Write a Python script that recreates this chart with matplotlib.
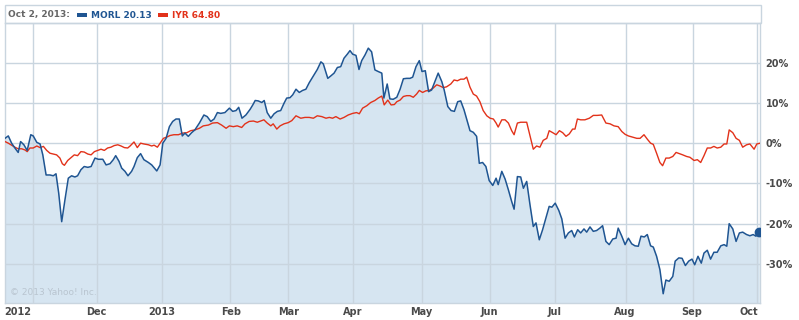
import matplotlib
matplotlib.use("Agg")
import matplotlib.pyplot as plt
from matplotlib.patches import Rectangle

# ── data (x = trading-session index from chart start, y = % change) ─────────

morl_day = [
    0, 1.1, 2.2, 3.3, 4.4, 5.2, 6.3, 7.4, 8.6, 9.4, 10.6, 11.7, 12.6, 13.7, 15,
    16.1, 17, 17.9, 18.9, 20, 21.1, 22.2, 23.3, 24.2, 25.3, 26.4, 27.6, 28.7, 30,
    31.1, 32.6, 33.7, 35, 36.1, 36.9, 38, 38.9, 40, 41, 42.2, 43, 44.1, 45.2,
    46.3, 47.8, 48.9, 50.6, 51.7, 52.6, 53.7, 54.8, 55.9, 57, 58.1, 59.1, 60,
    61.1, 62.2, 63.3, 64.8, 66.3, 67.4, 68.6, 69.7, 70.8, 71.9, 73.3, 74.8, 75.9,
    77, 77.9, 79, 80.3, 81.7, 82.6, 83.4, 84.4, 85.6, 86.4, 87.4, 88.6, 89.7,
    90.8, 91.9, 93, 93.9, 95, 95.9, 97, 98.1, 99.2, 100.3, 101.4, 102.8, 104.1,
    105.3, 106.1, 107.6, 108.6, 109.7, 110.8, 111.9, 113, 114.1, 115, 115.9, 117,
    118, 118.9, 120, 121.1, 122.2, 123.3, 124.4, 125.6, 126.3, 127.4, 128.3,
    129.4, 130.6, 131.7, 132.8, 133.9, 135, 135.9, 137, 138.1, 139, 140.1, 141.2,
    142.2, 143.3, 144.4, 145.6, 146.4, 147.6, 148.7, 149.8, 150.9, 151.9, 153,
    153.9, 155, 156.1, 157.2, 158.1, 159.2, 160.3, 161.4, 162.6, 163.7, 164.4,
    165.6, 166.7, 167.8, 168.9, 169.7, 170.8, 171.9, 172.8, 173.9, 175, 176.1,
    177, 178.1, 179.2, 180.3, 181.4, 182.3, 183.4, 184.6, 185.6, 186.7, 187.8,
    188.9, 189.8, 190.9, 191.9, 193, 193.9, 195, 196.1, 197.2, 198.3, 199.2,
    200.3, 201.4, 202.6, 203.7, 204.4, 205.6, 206.7, 207.8, 208.9, 210, 211.1,
    212, 213.1, 214.1, 215.2, 216.1, 217.2, 218.3, 219.4, 220.3, 221.4, 222.6,
    223.4, 224.6, 225.7, 226.8, 227.9, 229, 229.9, 231, 232.1, 233, 234.1, 235.2,
    236.3, 237.4, 238.6, 239.7, 240.6, 241.4, 242.6, 243.7, 244.8, 245.9, 247.2,
    248.3, 249.4, 250.3, 251.4,
]
morl_pct = [
    1.2, 1.8, 0.0, -1.2, -2.3, 0.4, -0.4, -1.8, 2.1, 1.8, 0.2, -0.2, -2.9, -7.9,
    -7.9, -8.1, -7.6, -12.4, -19.5, -14.0, -8.7, -8.1, -8.4, -8.1, -6.6, -5.8,
    -6.0, -5.8, -3.7, -4.0, -4.0, -5.4, -5.1, -4.1, -3.1, -4.5, -6.2, -7.0, -8.1,
    -7.0, -5.8, -3.6, -2.6, -4.1, -4.8, -5.4, -6.9, -5.4, 0.0, 1.2, 4.1, 5.4,
    6.0, 6.0, 1.8, 2.5, 1.7, 2.6, 3.3, 5.0, 7.0, 6.6, 5.4, 6.0, 7.6, 7.4, 7.6,
    8.7, 7.9, 8.1, 8.9, 6.2, 7.0, 8.4, 9.5, 10.6, 10.5, 10.1, 10.6, 7.6, 6.2,
    7.3, 7.9, 8.1, 9.9, 11.2, 11.3, 12.0, 13.4, 12.6, 13.1, 13.4, 15.0, 16.7,
    18.3, 20.2, 19.7, 16.1, 16.7, 17.4, 18.8, 19.0, 21.1, 22.1, 23.0, 22.1, 21.8,
    18.3, 20.5, 21.9, 23.6, 22.7, 18.2, 17.8, 17.4, 11.2, 14.7, 11.0, 10.9, 11.4,
    13.4, 16.0, 16.1, 16.1, 16.4, 19.0, 20.5, 17.8, 18.0, 12.8, 13.2, 15.3, 17.4,
    15.3, 13.2, 9.1, 8.1, 7.9, 10.3, 10.5, 8.3, 6.0, 3.1, 2.7, 1.7, -5.0, -4.8,
    -5.8, -9.3, -10.5, -8.7, -10.3, -7.0, -8.9, -11.6, -14.5, -16.4, -8.3, -8.4,
    -11.2, -9.5, -15.3, -20.7, -19.8, -24.0, -21.5, -18.6, -15.7, -15.9, -14.9,
    -16.7, -18.8, -23.6, -22.3, -21.7, -23.3, -21.5, -22.3, -21.3, -22.1, -20.8,
    -21.9, -21.7, -21.1, -20.5, -24.4, -25.2, -23.8, -23.6, -21.1, -23.1, -25.2,
    -23.6, -25.0, -25.5, -25.6, -23.1, -23.3, -22.7, -25.5, -25.8, -28.1, -31.4,
    -37.4, -34.0, -34.3, -33.1, -29.3, -28.5, -28.6, -30.4, -29.3, -28.8, -30.2,
    -28.1, -29.8, -27.3, -26.6, -28.8, -27.1, -27.1, -25.5, -25.2, -25.6, -20.0,
    -21.3, -24.4, -22.3, -22.1, -22.7, -23.0, -22.7, -23.1, -22.1,
]

iyr_day = [
    0, 1.1, 2.2, 3.3, 4.4, 5.6, 6.7, 7.4, 8.3, 9.4, 10.6, 11.7, 12.8, 13.9, 15,
    16.1, 17.2, 18.3, 19.1, 19.8, 20.9, 22, 23.1, 24.2, 25.3, 26.4, 27.6, 28.7,
    29.8, 30.9, 32, 33.1, 34.2, 35.3, 36.4, 37.6, 38.7, 39.8, 40.9, 41.7, 43,
    44.1, 45.2, 46.3, 47.8, 48.9, 49.7, 50.8, 51.9, 52.8, 53.9, 55, 56.3, 57.8,
    59.2, 60.6, 61.9, 63.3, 64.8, 66.1, 67.8, 69.2, 70.8, 72.2, 73.7, 74.8, 76.1,
    77.4, 78.9, 80, 81.4, 82.8, 84.1, 85.2, 86.3, 87.4, 88.6, 89.4, 90.6, 91.7,
    93, 94.4, 95.6, 97, 98.6, 100, 101.4, 102.8, 104.1, 105.6, 107, 108.1, 109.2,
    110.3, 111.7, 113, 114.4, 115.9, 117.2, 118.1, 119.2, 120.6, 121.9, 123.3,
    124.4, 125.6, 126.4, 127.6, 128.7, 129.8, 130.6, 131.7, 132.8, 133.9, 135,
    136.1, 137.2, 138.1, 139.2, 140.3, 141.4, 142.6, 143.9, 145, 146.1, 147.2,
    148.6, 149.7, 150.8, 151.9, 153, 153.9, 155, 156.1, 157.2, 158.3, 159.4,
    160.6, 161.7, 162.8, 163.7, 164.4, 165.6, 166.7, 167.8, 168.9, 169.7, 170.8,
    171.9, 173.9, 175, 176.1, 177.2, 178.3, 179.4, 180.6, 181.4, 182.6, 183.7,
    184.8, 185.9, 187, 188.1, 189.2, 190, 190.8, 191.9, 193.3, 194.8, 196.1,
    197.4, 198.9, 200.3, 201.7, 203, 204.4, 205.6, 206.7, 207.8, 209.2, 210.6,
    211.7, 213, 214.1, 215.2, 216.1, 217.2, 218.3, 219.2, 220.3, 221.4, 222.6,
    223.7, 224.8, 225.9, 227.2, 228.3, 229.7, 230.8, 231.9, 233, 234.1, 235.2,
    236.3, 237.4, 238.6, 239.7, 240.6, 241.4, 242.6, 243.7, 244.8, 245.9, 247.2,
    248.3, 249.7, 250.6, 251.7,
]
iyr_pct = [
    0.4, 0.0, -0.5, -1.0, -1.4, -1.4, -1.7, -2.1, -1.2, -1.2, -0.7, -1.1, -0.8,
    -1.8, -2.5, -2.7, -2.9, -3.7, -5.1, -5.5, -4.3, -3.6, -2.9, -3.1, -2.1, -2.2,
    -2.7, -2.9, -2.1, -1.8, -1.5, -1.8, -1.2, -1.0, -0.6, -0.4, -0.7, -1.1, -1.2,
    -0.7, 0.3, -1.1, 0.0, -0.2, -0.4, -0.7, -0.5, -1.0, 0.2, 1.2, 1.5, 1.9, 2.1,
    2.1, 2.5, 2.6, 3.1, 3.3, 3.7, 4.3, 4.5, 5.0, 5.1, 4.5, 3.7, 4.3, 4.1, 4.3,
    3.9, 4.8, 5.4, 5.5, 5.2, 5.5, 5.8, 5.0, 4.3, 4.8, 3.5, 4.3, 4.8, 5.1, 5.6,
    6.8, 6.2, 6.4, 6.4, 6.2, 6.8, 6.6, 6.2, 6.4, 6.2, 6.6, 6.0, 6.4, 7.0, 7.4,
    7.6, 7.3, 8.7, 9.3, 10.1, 10.6, 11.2, 11.7, 9.5, 10.7, 9.5, 9.6, 10.3, 10.7,
    11.6, 11.8, 11.8, 11.4, 12.2, 13.1, 12.6, 13.0, 13.1, 13.6, 14.5, 14.2, 13.8,
    14.0, 14.7, 15.7, 15.5, 15.9, 15.9, 16.4, 13.9, 12.2, 11.7, 10.3, 8.1, 6.8,
    6.2, 6.0, 5.0, 4.0, 5.8, 5.8, 5.0, 3.1, 2.1, 5.0, 5.2, 5.2, 1.8, -1.5, -0.7,
    -1.0, 0.7, 1.2, 3.1, 2.6, 2.1, 3.1, 2.6, 1.7, 2.3, 3.5, 3.5, 6.0, 5.8, 5.8,
    6.2, 6.9, 6.9, 7.0, 5.0, 4.8, 4.3, 4.1, 2.9, 2.2, 1.8, 1.5, 1.2, 1.2, 2.1,
    1.0, 0.0, -0.3, -2.5, -4.8, -5.6, -3.7, -3.7, -3.3, -2.3, -2.6, -2.9, -3.3,
    -3.5, -4.3, -4.1, -4.8, -3.1, -1.2, -1.2, -0.8, -1.2, -1.0, -0.2, -0.2, 3.3,
    2.6, 1.2, 0.7, -1.0, -0.4, -0.2, -1.5, -0.2, 0.0,
]

month_starts = [9.3, 30.7, 52.3, 75, 94.5, 116, 138.9, 161.7, 183.3, 207, 229.3, 250.7]
month_labels = ["2012", "Dec", "2013", "Feb", "Mar", "Apr", "May", "Jun", "Jul",
                "Aug", "Sep", "Oct"]
label_pos = [4.3, 30.3, 52.3, 75.3, 94.7, 116, 138.7, 161.3, 183.3, 206.7, 229, 248]
pct_ticks = [-30, -20, -10, 0, 10, 20]

quote_date = "Oct 2, 2013:"
symbols = ["MORL", "IYR"]
last_prices = [20.13, 64.80]

BLUE = "#1f5592"
RED = "#e2321a"
FILL = "#d6e5f1"
GRID = "#c9d5df"
TEXT = "#4a4a4a"

fig = plt.figure(figsize=(7.99, 3.2), dpi=100)
ax = fig.add_axes([5 / 799, 17 / 320, 755 / 799, 280 / 320])

ymin, ymax = -39.7, 29.85
ax.fill_between(morl_day, morl_pct, ymin, color=FILL, lw=0, zorder=1)
for x in month_starts:
    ax.axvline(x, color=GRID, lw=1.0, zorder=2)
for y in pct_ticks:
    ax.axhline(y, color=GRID, lw=1.0, zorder=2)
ax.plot(iyr_day, iyr_pct, color=RED, lw=1.0, zorder=3)
ax.plot(morl_day, morl_pct, color=BLUE, lw=1.1, zorder=4)
ax.plot(morl_day[-1], morl_pct[-1], "o", color=BLUE, ms=6, zorder=5)

ax.set_xlim(0, 251.67)
ax.set_ylim(ymin, ymax)
ax.set_xticks(label_pos)
ax.set_xticklabels(month_labels, fontsize=7, fontweight="bold", color=TEXT)
ax.yaxis.tick_right()
ax.set_yticks(pct_ticks)
ax.set_yticklabels([f"{v}%" for v in pct_ticks], fontsize=7, fontweight="bold",
                   color=TEXT)
ax.tick_params(length=0, pad=3)
ax.tick_params(axis="y", pad=4)
for s in ax.spines.values():
    s.set_color(GRID)
    s.set_linewidth(1.0)

ax.text(0.006, 0.02, "\u00a9 2013 Yahoo! Inc.", transform=ax.transAxes,
        fontsize=6.5, color="#b9c5d0", va="bottom", ha="left", zorder=6)

# header strip
fig.patches.append(Rectangle((5 / 799, 297 / 320), 755.5 / 799, 18 / 320,
                             transform=fig.transFigure, fill=False,
                             edgecolor=GRID, lw=1.0))
hy = 1 - 15 / 320
fig.text(8 / 799, hy, quote_date, fontsize=6.5, fontweight="bold", color="#666666",
         va="center")
for i, (sym, price, col) in enumerate(zip(symbols, last_prices, [BLUE, RED])):
    x0 = [77, 158][i]
    fig.patches.append(Rectangle((x0 / 799, 1 - 16.5 / 320), 10 / 799, 4 / 320,
                                 transform=fig.transFigure, color=col, lw=0))
    fig.text((x0 + 14) / 799, hy, f"{sym} {price:.2f}", fontsize=6.5,
             fontweight="bold", color=col, va="center")

fig.savefig("out.png", dpi=100)
